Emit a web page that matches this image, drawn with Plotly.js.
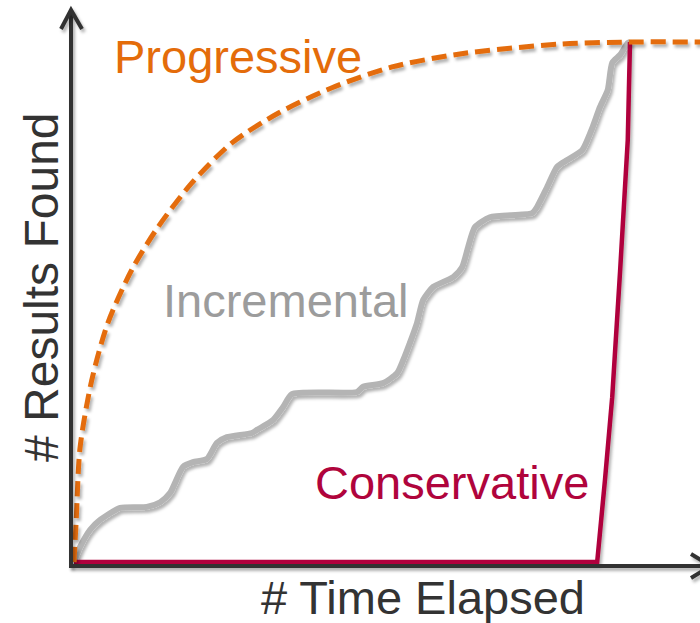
<!DOCTYPE html>
<html>
<head>
<meta charset="utf-8">
<script src="https://cdn.plot.ly/plotly-3.0.1.min.js"></script>
<style>
  html, body { margin: 0; padding: 0; background: #fff; }
  #chart { width: 700px; height: 623px; }
</style>
</head>
<body>
<div id="chart"></div>
<script>
// ---- data (time elapsed in % of full run, results found in %) ----
const progressiveTime    = [0, 0.4, 1.1, 3.2, 6.1, 10.4, 15.1, 21.2, 28.4, 36.7, 46.4, 57.2, 69.4, 87.4, 100, 112.6];
const progressiveResults = [0, 8.1, 22.1, 35.0, 46.0, 56.2, 64.4, 72.9, 80.6, 86.3, 91.2, 95.2, 97.7, 99.6, 100, 100];

const incrementalTime    = [0, 1.1, 2.9, 4.7, 8.3, 13.1, 15.5, 17.3, 19.6, 21.4, 23.9, 25.7, 27.5, 32.0, 32.9, 35.8, 37.6, 39.2,
                            50.9, 52.0, 55.6, 58.1, 59.2, 60.4, 61.7, 62.8, 64.6, 68.2, 69.8, 70.9, 72.1, 74.8,
                            82.4, 83.3, 85.1, 86.9, 88.7, 91.4, 93.3, 94.6, 96.0, 96.8, 98.2, 99.6, 100];
const incrementalResults = [0, 2.9, 6.2, 8.1, 10.4, 10.6, 11.5, 13.3, 18.3, 19.2, 19.8, 22.9, 24.0, 24.8, 25.4, 27.3, 29.8, 32.3,
                            32.7, 33.7, 34.4, 36.3, 38.8, 42.1, 46.0, 50.4, 52.9, 54.8, 56.7, 60.6, 64.4, 66.3,
                            67.1, 68.3, 72.1, 76.0, 77.3, 79.2, 83.7, 87.5, 90.8, 96.0, 97.5, 99.8, 100];

const conservativeTime    = [0, 94.1, 95.5, 96.8, 98.2, 99.6, 100];
const conservativeResults = [0, 0, 15.8, 31.7, 55.6, 81.2, 100];

const seriesLabels = ["Progressive", "Incremental", "Conservative"];
const xAxisLabel = "# Time Elapsed";
const yAxisLabel = "# Results Found";

// ---- styling ----
const W = 700, H = 623;
const FONT = "Liberation Sans, Arial, sans-serif";
const ORANGE = "#E46C0A", GRAY_LINE = "#B4B4B4", GRAY_TEXT = "#9C9C9C", CRIMSON = "#B0043C", DARK = "#333333";
const px = x => x / W;          // pixel -> paper x
const py = y => 1 - y / H;      // pixel -> paper y

const traces = [
  { x: incrementalTime, y: incrementalResults, type: "scatter", mode: "lines",
    line: { color: GRAY_LINE, width: 6, shape: "spline", smoothing: 0.6 }, hoverinfo: "skip" },
  { x: conservativeTime, y: conservativeResults, type: "scatter", mode: "lines",
    line: { color: CRIMSON, width: 4.5 }, hoverinfo: "skip" },
  { x: progressiveTime, y: progressiveResults, type: "scatter", mode: "lines",
    line: { color: ORANGE, width: 5, dash: "15px,7px", shape: "spline", smoothing: 0.8 }, hoverinfo: "skip" }
];

const shapes = [
  { type: "line", xref: "paper", yref: "paper", x0: px(71), y0: py(567), x1: px(71), y1: py(11),
    line: { color: DARK, width: 4 } },
  { type: "line", xref: "paper", yref: "paper", x0: px(69), y0: py(566), x1: px(705), y1: py(566),
    line: { color: DARK, width: 4 } },
  { type: "path", xref: "paper", yref: "paper",
    path: `M ${px(61)} ${py(29)} L ${px(71)} ${py(10)} L ${px(82)} ${py(29)}`,
    line: { color: DARK, width: 4 } },
  { type: "path", xref: "paper", yref: "paper",
    path: `M ${px(691)} ${py(554)} L ${px(711)} ${py(566)} L ${px(691)} ${py(578)}`,
    line: { color: DARK, width: 4 } }
];

const annotations = [
  { text: seriesLabels[0], x: px(237.5), y: py(56), color: ORANGE },
  { text: seriesLabels[1], x: px(286), y: py(300), color: GRAY_TEXT },
  { text: seriesLabels[2], x: px(451.5), y: py(482), color: CRIMSON },
  { text: xAxisLabel, x: px(423), y: py(597), color: DARK }
].map(a => ({ text: a.text, x: a.x, y: a.y, xref: "paper", yref: "paper",
  xanchor: "center", yanchor: "middle", showarrow: false,
  font: { family: FONT, size: 47, color: a.color } }));
annotations.push({ text: yAxisLabel, x: px(41), y: py(287), xref: "paper", yref: "paper",
  xanchor: "center", yanchor: "middle", showarrow: false, textangle: -90,
  font: { family: FONT, size: 48, color: DARK } });

const layout = {
  width: W, height: H,
  margin: { l: 0, r: 0, t: 0, b: 0, pad: 0 },
  paper_bgcolor: "#ffffff", plot_bgcolor: "#ffffff",
  showlegend: false,
  xaxis: { range: [-74 / 5.56, (700 - 74) / 5.56], visible: false, fixedrange: true },
  yaxis: { range: [-(623 - 562) / 5.2, 562 / 5.2], visible: false, fixedrange: true },
  shapes: shapes,
  annotations: annotations
};

function addShadows() {
  const svg = document.querySelector("#chart .main-svg");
  if (!svg) return;
  const NS = "http://www.w3.org/2000/svg";
  let defs = svg.querySelector("defs");
  if (!defs) { defs = document.createElementNS(NS, "defs"); svg.insertBefore(defs, svg.firstChild); }
  if (!svg.querySelector("#softShadow")) {
    const f = document.createElementNS(NS, "filter");
    f.setAttribute("id", "softShadow");
    f.setAttribute("filterUnits", "userSpaceOnUse");
    f.setAttribute("x", "-50"); f.setAttribute("y", "-50");
    f.setAttribute("width", String(W + 100)); f.setAttribute("height", String(H + 100));
    const ds = document.createElementNS(NS, "feDropShadow");
    ds.setAttribute("dx", "2"); ds.setAttribute("dy", "3");
    ds.setAttribute("stdDeviation", "1.6");
    ds.setAttribute("flood-color", "#000"); ds.setAttribute("flood-opacity", "0.3");
    f.appendChild(ds);
    defs.appendChild(f);
  }
  document.querySelectorAll("#chart .scatterlayer .trace").forEach(g => g.setAttribute("filter", "url(#softShadow)"));
  document.querySelectorAll("#chart .shapelayer path").forEach(p => p.setAttribute("filter", "url(#softShadow)"));
}

Plotly.newPlot("chart", traces, layout, { displayModeBar: false, staticPlot: true }).then(addShadows);
</script>
</body>
</html>
